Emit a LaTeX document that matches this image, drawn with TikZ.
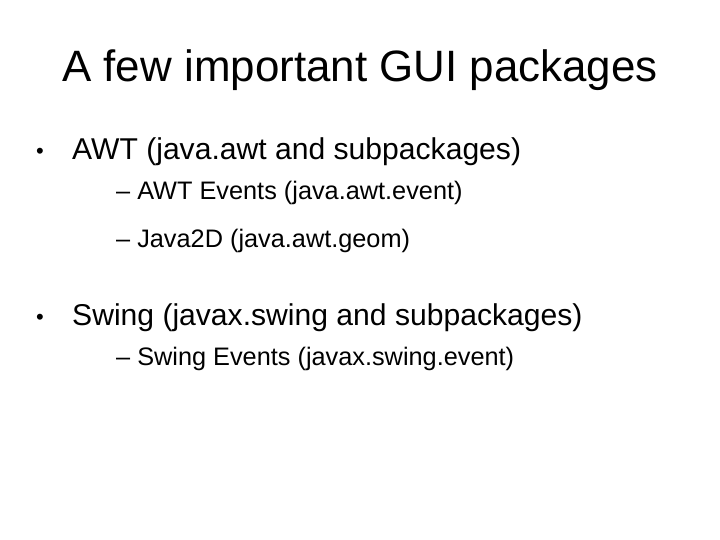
\documentclass[tikz,border=0pt]{standalone}
\usepackage{fontspec}
\setmainfont{Liberation Sans}
\begin{document}
\begin{tikzpicture}[x=1pt,y=-1pt,
  t/.style={anchor=west,inner sep=0pt},
  lone/.style={t,font=\fontsize{30.1}{32}\selectfont},
  bul/.style={t,font=\fontsize{22}{24}\selectfont},
  ltwo/.style={t,font=\fontsize{25.3}{27}\selectfont}]
\useasboundingbox (0,0) rectangle (720,540);
\node[inner sep=0pt,font=\fontsize{43.9}{46}\selectfont] (title) at (360,70) {A few important GUI packages};
\node[bul] (b1d) at (36,153) {•};
\node[lone] (b1) at (72,152) {AWT (java.awt and subpackages)};
\node[ltwo] (s1) at (116,193) {– AWT Events (java.awt.event)};
\node[ltwo] (s2) at (116,241) {– Java2D (java.awt.geom)};
\node[bul] (b2d) at (36,319) {•};
\node[lone] (b2) at (72,318) {Swing (javax.swing and subpackages)};
\node[ltwo] (s3) at (116,359) {– Swing Events (javax.swing.event)};
\end{tikzpicture}
\end{document}
